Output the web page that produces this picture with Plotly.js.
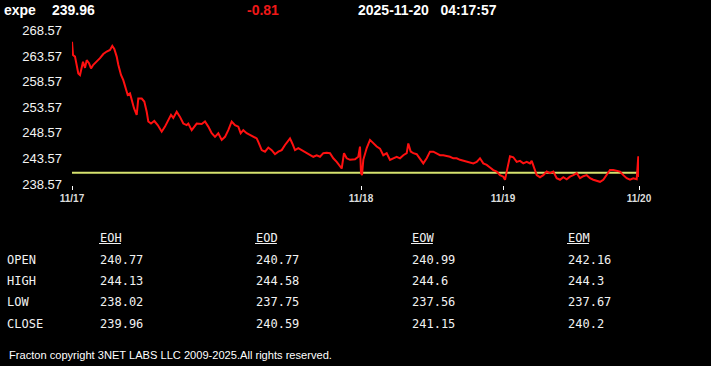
<!DOCTYPE html>
<html>
<head>
<meta charset="utf-8">
<script src="https://cdn.plot.ly/plotly-3.0.1.min.js"></script>
<style>
html,body{margin:0;padding:0;background:#000;}
#chart{width:711px;height:366px;}
</style>
</head>
<body>
<div id="chart"></div>
<script>
// ---- header data ----
const symbol = 'expe';
const lastPrice = 239.96;
const prevClose = 240.77;
const change = -0.81;
const dateStr = '2025-11-20';
const timeStr = '04:17:57';

// ---- intraday series (session index, price) ----
const idx = [0,1,3,6.3,8,9.7,11,13,14.7,17,19,21.3,24.7,28,31.3,34.7,38,40.3,42.3,44.7,46.3,49,51.3,53.7,55.7,58,59.7,62,64.7,66.3,69.7,72.3,74.7,76.3,79,82.3,85.7,89.7,93,96.3,99,101.3,104.7,108,111.3,114.7,116.3,119.7,123,124.7,129.7,133,136.3,139.7,143,146.3,149.7,153,156.3,159.7,163,166.3,168.7,171.3,174.7,178,181.3,184.7,186.3,189.7,193,196.3,199.7,203,206.3,209.7,213,216.3,218,220.3,223,226.3,229.7,234.7,238,241.3,244.7,248,251.3,254.7,258,261.3,264.7,268,269.7,272,274.7,278,283,286.3,288,289,290,291.3,294.7,298,301.3,304.7,308,311.3,314.7,318,321.3,324.7,328,331.3,334.7,336.3,338.7,341.3,344.7,348,351.3,354.7,358,361.3,364.7,368,371.3,374.7,378,381.3,384.7,388,391.3,394.7,398,401.3,404.7,408,411.3,414.7,418,421.3,424.7,428,431.3,433,434.7,437.3,438,441.3,444.7,448,451.3,454.7,458,459.7,462,464.7,468,471.3,474.7,478,481.3,484.7,488,491.3,494.7,498,501.3,504.7,508,511.3,514.7,518,521.3,524.7,528,531.3,534.7,538,541.3,544.7,548,551.3,554.7,558,561.3,564.7,566.3,567];
const price = [266.4,263.8,263.5,260.2,259.9,261.3,262.5,261.3,262.8,262.2,261.2,261.9,262.5,263.2,264.0,264.5,264.8,265.6,265.0,263.5,261.9,259.9,258.9,257.3,256.0,256.3,255.0,253.4,252.1,255.3,255.3,254.7,252.7,250.8,250.4,250.9,250.1,248.8,249.8,251.1,252.1,251.5,252.7,251.7,250.4,250.1,250.4,249.1,250.1,250.4,250.3,250.8,249.8,248.5,247.8,248.5,247.2,247.8,249.1,250.8,250.1,249.8,248.5,249.1,248.5,248.2,247.8,247.5,246.8,245.2,244.9,245.7,245.2,244.4,244.9,245.2,246.2,247.2,247.5,246.5,245.2,245.6,245.2,244.6,244.2,243.9,244.2,243.9,244.6,244.7,244.6,243.6,242.9,241.9,241.6,244.6,243.6,243.3,243.4,243.9,245.9,240.7,240.3,243.3,245.6,247.2,246.5,245.9,245.5,244.2,244.6,243.3,243.6,243.9,243.6,244.2,244.6,246.5,244.9,244.6,244.4,243.6,242.6,243.6,244.9,244.9,244.6,244.2,244.2,244.1,243.9,243.6,243.6,243.3,243.1,242.9,242.8,242.6,242.9,243.6,242.6,242.3,241.8,241.3,241.0,240.3,240.0,239.4,241.0,243.6,244.0,243.8,242.9,243.1,242.6,242.9,242.6,243.1,241.9,240.3,239.9,240.3,241.0,240.7,241.0,239.7,239.4,239.9,239.5,240.0,240.3,240.7,239.7,240.1,240.3,239.7,239.4,239.2,239.0,239.4,240.3,241.3,241.3,241.2,241.0,240.3,239.7,239.4,239.7,239.5,244.0,239.96];

// ---- axis ticks ----
const dayTickIdx = [0, 289, 431, 567];
const dayLabels = ['11/17', '11/18', '11/19', '11/20'];
const priceTicks = [238.57, 243.57, 248.57, 253.57, 258.57, 263.57, 268.57];

// ---- stats table ----
const rowLabels = ['OPEN', 'HIGH', 'LOW', 'CLOSE'];
const colHeaders = ['EOH', 'EOD', 'EOW', 'EOM'];
const eoh = [240.77, 244.13, 238.02, 239.96];
const eod = [240.77, 244.58, 237.75, 240.59];
const eow = [240.99, 244.6, 237.56, 241.15];
const eom = [242.16, 244.3, 237.67, 240.2];
const footer = 'Fracton copyright 3NET LABS LLC 2009-2025.All rights reserved.';

// ---- layout geometry ----
const W = 711, H = 366;
const L = 72, R = 72, T = 26, B = 181;
const pw = W - L - R, ph = H - T - B;
const px = x => (x - L) / pw;
const py = y => (H - B - y) / ph;

const annotations = [];
function txt(text, x, y, font, anchor) {
  annotations.push({
    text: text, xref: 'paper', yref: 'paper', x: px(x), y: py(y),
    xanchor: anchor || 'left', yanchor: 'middle', showarrow: false,
    font: font, borderpad: 0
  });
}
const hdrFont = {family: 'Liberation Sans, Arial', size: 14, color: '#ffffff', weight: 'bold'};
txt(symbol, 3, 10, hdrFont);
txt(lastPrice.toFixed(2), 51, 10, hdrFont);
txt(change.toFixed(2), 246, 10, Object.assign({}, hdrFont, {color: '#f01818'}));
txt(dateStr + '&nbsp;&nbsp;&nbsp;' + timeStr, 357, 10, hdrFont);

const monoFont = {family: 'DejaVu Sans Mono, monospace', size: 12, color: '#f2f2f2'};
const colX = [99, 255, 411, 567];
const rowY = [260, 281, 302, 324];
const cols = [eoh, eod, eow, eom];
const shapes = [];
colHeaders.forEach((h, i) => {
  txt(h, colX[i], 238, monoFont);
  shapes.push({type: 'line', xref: 'paper', yref: 'paper',
    x0: px(colX[i]), x1: px(colX[i] + h.length * 7.3), y0: py(243.5), y1: py(243.5),
    line: {color: '#f2f2f2', width: 1}});
});
rowLabels.forEach((r, j) => {
  txt(r, 6, rowY[j], monoFont);
  cols.forEach((c, i) => txt(String(c[j]), colX[i], rowY[j], monoFont));
});
txt(footer, 8, 355, {family: 'Liberation Sans, Arial', size: 11.1, color: '#ffffff'});

const traces = [
  {x: [idx[0], idx[idx.length - 1]], y: [prevClose, prevClose], mode: 'lines',
   line: {color: '#d6e26e', width: 2}, hoverinfo: 'skip'},
  {x: idx, y: price, mode: 'lines', line: {color: '#ff1010', width: 2}, hoverinfo: 'skip'}
];

const layout = {
  width: W, height: H,
  margin: {l: L, r: R, t: T, b: B, pad: 0},
  paper_bgcolor: '#000', plot_bgcolor: '#000',
  showlegend: false,
  xaxis: {
    range: [0, 567], showgrid: false, zeroline: false, showline: false,
    tickmode: 'array', tickvals: dayTickIdx, ticktext: dayLabels,
    ticks: 'outside', ticklen: 4, tickwidth: 1, tickcolor: '#ffffff',
    tickfont: {family: 'Liberation Sans, Arial', size: 10, color: '#dddddd', weight: 'bold'}
  },
  yaxis: {
    range: [238.374, 269.49], showgrid: false, zeroline: false, showline: false,
    tickmode: 'array', tickvals: priceTicks, ticktext: priceTicks.map(v => v.toFixed(2)),
    ticks: '', ticklabelstandoff: 9,
    tickfont: {family: 'Liberation Sans, Arial', size: 13, color: '#f4f4f4'}
  },
  annotations: annotations,
  shapes: shapes
};

Plotly.newPlot('chart', traces, layout, {staticPlot: true, displayModeBar: false});
</script>
</body>
</html>
